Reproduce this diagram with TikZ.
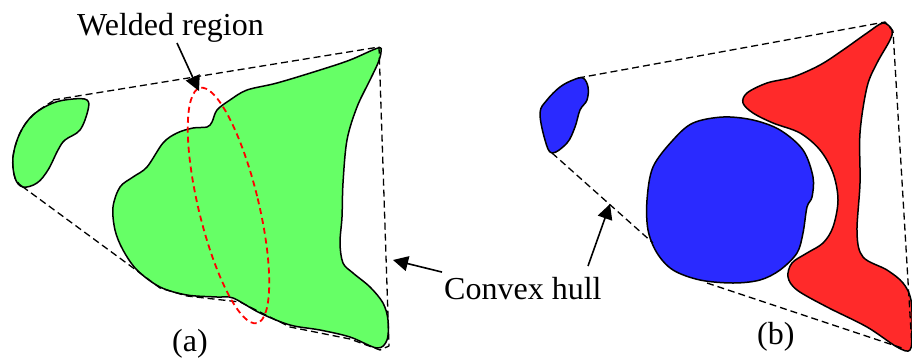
\documentclass[tikz,border=0pt]{standalone}
\usepackage{fontspec}
\setmainfont{Liberation Serif}
\newfontfamily\timesfam{Liberation Serif}
\usetikzlibrary{arrows.meta}
\definecolor{blobgreen}{RGB}{102,255,102}
\definecolor{blobblue}{RGB}{42,42,255}
\definecolor{blobred}{RGB}{255,42,42}
\begin{document}
\begin{tikzpicture}[x=1pt,y=-1pt,
  blob/.style={draw=black,line width=1.5pt,line join=round},
  hull/.style={draw=black,line width=1.3pt,dash pattern=on 7pt off 4pt,line join=round},
  weld/.style={draw=red,line width=1.8pt,dash pattern=on 6pt off 4pt},
  lbl/.style={font=\timesfam\fontsize{32}{36}\selectfont,inner sep=0pt},
  pointer/.style={line width=1.6pt,-{Triangle[length=15pt,width=15pt]}}]
\useasboundingbox (0,0) rectangle (912,360);

% ---------- panel (a) ----------
\path[blob,fill=blobgreen] plot[smooth cycle,tension=0.6] coordinates {
 (87,100) (88,110) (80,130) (65,140) (58,150) (48,170) (37,183) (23,187)
 (15,178) (13,157) (20,133) (33,115) (53,103) (73,99)};
\path[blob,fill=blobgreen] plot[smooth cycle,tension=0.55] coordinates {
 (378,48) (350,60) (320,70) (277,83) (247,90) (230,100) (217,110) (212,122)
 (207,127) (193,128) (177,133) (163,143) (147,167) (133,177) (120,187)
 (113,207) (115,230) (123,250) (137,270) (160,287) (187,295) (217,297)
 (233,298) (260,313) (290,325) (320,330) (350,337) (377,348) (387,340)
 (388,320) (383,303) (370,287) (353,273) (343,263) (340,243) (342,217)
 (343,183) (347,140) (357,107) (370,80) (378,63) (381,52)};
% hull (a)
\draw[hull] (53,100) -- (379,47) -- (389,346) -- (380,350) -- (350,339)
  -- (290,327) -- (240,302) -- (187,296) -- (160,288) -- (136,270) -- (23,187);
\draw[hull] plot[smooth,tension=0.6] coordinates {(23,187) (15,178) (13,157) (20,133) (33,115) (53,101)};
% welded region ellipse
\draw[weld] (228.5,205.5) ellipse[x radius=30,y radius=121,rotate=13.6];

% ---------- panel (b) ----------
\path[blob,fill=blobblue] plot[smooth cycle,tension=0.6] coordinates {
 (583,78) (588,87) (587,100) (580,110) (575,127) (567,143) (552,153)
 (545,140) (540,113) (547,100) (560,87) (573,80)};
\path[blob,fill=blobblue] plot[smooth cycle,tension=0.55] coordinates {
 (647,200) (653,167) (673,140) (693,123) (723,117) (753,120) (780,130)
 (803,150) (813,177) (812,197) (807,207) (803,233) (797,253) (780,270)
 (760,280) (733,283) (700,280) (673,270) (657,253) (648,230)};
\path[blob,fill=blobred] plot[smooth cycle,tension=0.55] coordinates {
 (883,23) (892,30) (890,40) (877,63) (867,87) (860,133) (860,183)
 (857,233) (863,257) (887,270) (903,283) (911,300) (912,330) (910,350)
 (897,347) (867,327) (827,307) (797,290) (788,277) (792,263) (807,253)
 (823,243) (833,227) (838,200) (833,173) (820,150) (800,133) (773,123)
 (753,113) (743,103) (747,93) (767,83) (793,77) (820,65) (843,50) (867,33)};
% hull (b)
\draw[hull] (578,78) -- (885,22) -- (893,31) -- (912,348);
\draw[hull] (552,153) -- (653,243);
\draw[hull] (707,283) -- (905,349);

% ---------- labels and pointers ----------
\node[lbl,anchor=base west] (welded) at (77,35) {Welded region};
\node[lbl,anchor=base west] (convex) at (444,299) {Convex hull};
\node[lbl,anchor=base west] (labA) at (172,351) {(a)};
\node[lbl,anchor=base west] (labB) at (757,344) {(b)};
\coordinate (weldtip) at (199,91);
\coordinate (hullA) at (393,260);
\coordinate (hullB) at (610,204);
\draw[pointer] (177,43) -- (weldtip);
\draw[pointer] (convex.west) ++(-2,-16) -- (hullA);
\draw[pointer] (588,266) -- (hullB);
\end{tikzpicture}
\end{document}
